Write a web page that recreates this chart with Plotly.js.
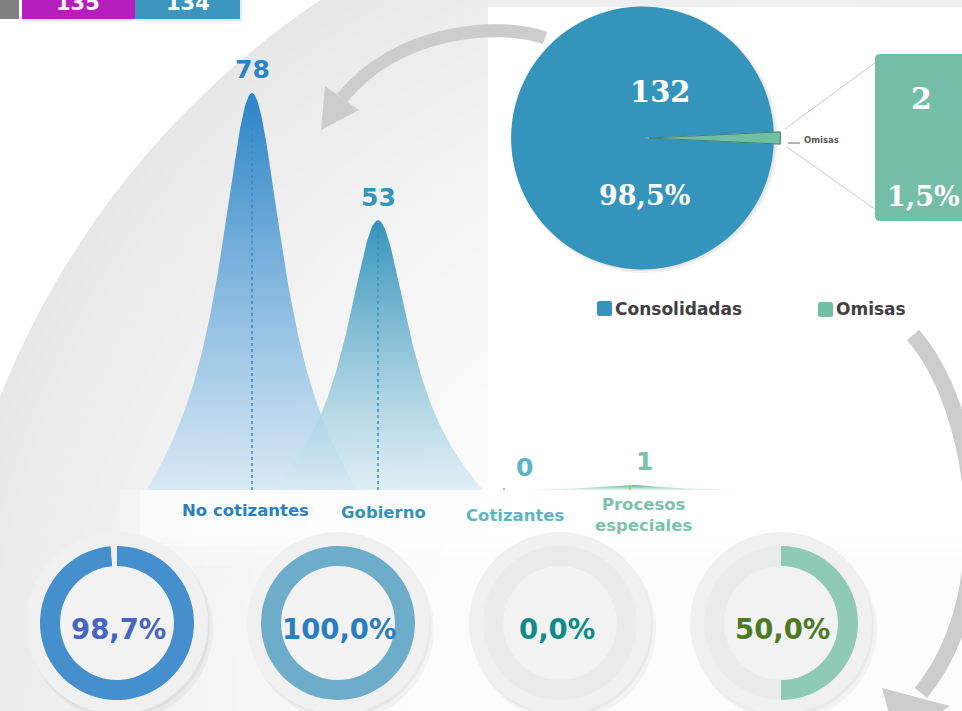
<!DOCTYPE html>
<html><head><meta charset="utf-8">
<script src="https://cdn.plot.ly/plotly-3.0.1.min.js"></script>
<style>html,body{margin:0;padding:0;background:#fff;overflow:hidden}#chart{width:962px;height:711px}</style>
</head><body><div id="chart"></div>
<script>
// ---------- DATA ----------
const topBoxValues = [135, 134];
const categories = ['No cotizantes', 'Gobierno', 'Cotizantes', 'Procesos<br>especiales'];
const counts = [78, 53, 0, 1];
const pieLabels = ['Consolidadas', 'Omisas'];
const pieValues = [132, 2];
const gaugePct = [98.7, 100.0, 0.0, 50.0];

// ---------- STYLE ----------
const W = 962, H = 711;
const FONT = 'DejaVu Sans';
const SERIF = 'DejaVu Serif';
const px = x => x / W;
const py = y => 1 - y / H;
const P = (x, y) => px(x) + ',' + py(y);

const peakTop = ['#2A84C6', '#3494BA', '#5BB5C6', '#4FA98A'];
const peakBottom = ['rgba(214,232,245,0.9)', 'rgba(214,235,242,0.75)', 'rgba(214,238,242,0.8)', 'rgba(210,236,226,0.6)'];
const dotColor = ['#3A86C8', '#3494BA', '#5BB5C6', '#8CC63F'];
const valColor = ['#2A84C6', '#3494BA', '#5BB5C6', '#7BC2A8'];
const catColor = ['#2B7FC3', '#3592B9', '#5BB5C6', '#7BC2A8'];
const valXShift = [0, 0, 20, 14];
const catXShift = [-7, 5, 11, 13];
const catYShift = [-20, -22, -25, -25];

const pieColors = ['#3494BC', '#6FBFA5'];
const gaugeCX = [117, 338, 560, 781], gaugeCY = 623;
const gaugeColor = ['#4590CC', '#6DADC9', '#8FCAB6', '#8ECAB5'];
const gaugeRest = ['#F0F0F0', '#EBEBEB', '#EBEBEB', '#EBEBEB'];
const gaugeText = ['#4664C4', '#2B7DC2', '#0E8C8A', '#4E7A26'];

// peak axis geometry
const X0PX = 252, STEP = 126, BASE = 490, TOPPX = 60, UNIT = 397 / 78;
const fmt = v => v.toFixed(1).replace('.', ',') + '%';

// ---------- SHAPES ----------
const shapes = [];
function circ(cx, cy, r, fill) {
  shapes.push({type: 'circle', xref: 'paper', yref: 'paper', layer: 'below',
    x0: px(cx - r), x1: px(cx + r), y0: py(cy + r), y1: py(cy - r),
    fillcolor: fill, line: {width: 0}});
}
function rect(x0, y0, x1, y1, fill) {
  shapes.push({type: 'rect', xref: 'paper', yref: 'paper', layer: 'below',
    x0: px(x0), x1: px(x1), y0: py(y1), y1: py(y0), fillcolor: fill, line: {width: 0}});
}
function rrect(x0, y0, x1, y1, r, fill) {
  const d = 'M' + P(x0 + r, y0) + ' L' + P(x1 - r, y0) + ' Q' + P(x1, y0) + ' ' + P(x1, y0 + r) +
    ' L' + P(x1, y1 - r) + ' Q' + P(x1, y1) + ' ' + P(x1 - r, y1) + ' L' + P(x0 + r, y1) +
    ' Q' + P(x0, y1) + ' ' + P(x0, y1 - r) + ' L' + P(x0, y0 + r) + ' Q' + P(x0, y0) + ' ' + P(x0 + r, y0) + ' Z';
  shapes.push({type: 'path', xref: 'paper', yref: 'paper', layer: 'below', path: d, fillcolor: fill, line: {width: 0}});
}
function stroke(d, color, w) {
  shapes.push({type: 'path', xref: 'paper', yref: 'paper', layer: 'below', path: d,
    fillcolor: 'rgba(0,0,0,0)', line: {color: color, width: w}});
}
function poly(pts, fill) {
  const d = 'M' + pts.map(p => P(p[0], p[1])).join(' L') + ' Z';
  shapes.push({type: 'path', xref: 'paper', yref: 'paper', layer: 'below', path: d, fillcolor: fill, line: {width: 0}});
}

// background big soft circle (smooth radial shading)
const BG_STEPS = 40;
for (let k = 0; k < BG_STEPS; k++) {
  const t = k / (BG_STEPS - 1);
  const r = 861 - 480 * t;
  const g = Math.round(0xE7 + (0xFC - 0xE7) * Math.pow(t, 0.75));
  circ(800, 715, r, 'rgb(' + g + ',' + g + ',' + g + ')');
}

// white panels with soft lower edge
rect(488, 7, 962, 537, '#FFFFFF');
rect(140, 490, 488, 537, 'rgba(255,255,255,0.7)');
rect(120, 490, 140, 537, 'rgba(255,255,255,0.3)');
[[537, 546, 0.55], [546, 555, 0.35], [555, 566, 0.18]].forEach(b => rect(120, b[0], 962, b[1], 'rgba(255,255,255,' + b[2] + ')'));

// top-left boxes
rect(0, 0, 19, 19, '#808080');
rect(22, 0, 135, 19, '#B51DBD');
rect(135, 0, 240, 19, '#3A96BF');
stroke('M' + P(21, 20.5) + ' L' + P(241, 20.5) + ' L' + P(241, 0), '#D8E6EF', 1.5);

// arrows
stroke('M' + P(545, 38) + ' C' + P(500, 22) + ' ' + P(400, 28) + ' ' + P(342, 98), '#CCCCCC', 13);
poly([[325, 86], [359, 110], [321, 130]], '#CCCCCC');
stroke('M' + P(913, 335) + ' C' + P(975, 405) + ' ' + P(1005, 590) + ' ' + P(921, 693), '#CCCCCC', 16);
poly([[882, 688], [950, 706], [897, 742]], '#CCCCCC');

// pie shadow
circ(645, 140, 133, 'rgba(0,0,0,0.05)');
circ(644, 139, 132, 'rgba(0,0,0,0.05)');

// Omisas breakout box + connectors
stroke('M' + P(785, 129) + ' L' + P(876, 62), '#C9C9C9', 1);
stroke('M' + P(787, 147) + ' L' + P(876, 210), '#C9C9C9', 1);
rrect(875, 54, 985, 221, 5, '#74BDA6');
stroke('M' + P(788, 143) + ' L' + P(800, 143), '#666666', 1);

// legend squares
rrect(597, 301, 612, 316, 2.5, pieColors[0]);
rrect(818, 302, 833, 317, 2.5, pieColors[1]);

// gauge discs
gaugeCX.forEach(cx => {
  circ(cx + 4, gaugeCY + 6, 92, 'rgba(0,0,0,0.035)');
  circ(cx + 2, gaugeCY + 3, 91, 'rgba(0,0,0,0.04)');
  circ(cx, gaugeCY, 91, '#F0F0F0');
  circ(cx, gaugeCY, 60, '#EAEAEA');
  circ(cx, gaugeCY, 57, '#F2F2F2');
});

// ---------- TRACES ----------
const traces = [];
const D = 105 / STEP, A = 38 / STEP, N = 160;
counts.forEach((v, i) => {
  const xs = [], ys = [];
  for (let k = -N; k <= N; k++) {
    const d = D * k / N;
    const f = 1 / (1 + (d / A) ** 2) * (1 - (d / D) ** 4);
    xs.push(i + d); ys.push(v * Math.max(f, 0));
  }
  traces.push({type: 'scatter', mode: 'lines', x: xs, y: ys, fill: 'toself',
    line: {width: 0, color: 'rgba(0,0,0,0)'},
    fillcolor: peakTop[i],
    fillgradient: {type: 'vertical', start: 0, stop: Math.max(v, 0.5),
      colorscale: [[0, peakBottom[i]], [1, peakTop[i]]]},
    hoverinfo: 'skip', showlegend: false, xaxis: 'x', yaxis: 'y'});
});
counts.forEach((v, i) => {
  traces.push({type: 'scatter', mode: 'lines', x: [i, i], y: [0, Math.max(v, 0.35)],
    line: {color: dotColor[i], width: 1.5, dash: 'dot'}, hoverinfo: 'skip', showlegend: false});
});

const total = pieValues.reduce((a, b) => a + b, 0);
traces.push({type: 'pie', labels: pieLabels, values: pieValues, sort: false, direction: 'clockwise',
  rotation: 90 + 180 * pieValues[1] / total, pull: [0, 0.05],
  marker: {colors: pieColors, line: {color: ['#3494BC', '#2E6F5D'], width: [0, 0.8]}},
  textinfo: 'none', hoverinfo: 'skip', showlegend: false,
  domain: {x: [px(504.5), px(780.5)], y: [py(276), py(0)]}});

gaugePct.forEach((p, i) => {
  const cx = gaugeCX[i];
  traces.push({type: 'pie', values: [p, 100 - p], labels: ['a' + i, 'b' + i], sort: false,
    direction: 'clockwise', rotation: 0, hole: 57 / 77,
    marker: {colors: [gaugeColor[i], gaugeRest[i]], line: {width: 0}},
    textinfo: 'none', hoverinfo: 'skip', showlegend: false,
    domain: {x: [px(cx - 77), px(cx + 77)], y: [py(gaugeCY + 77), py(gaugeCY - 77)]}});
});

// ---------- ANNOTATIONS ----------
const annotations = [];
function ann(x, y, text, size, color, o) {
  annotations.push(Object.assign({xref: 'paper', yref: 'paper', x: px(x), y: py(y), text: text,
    showarrow: false, xanchor: 'center', yanchor: 'middle',
    font: {family: FONT, size: size, color: color, weight: 'bold'}}, o || {}));
}
// top boxes
ann(78, 3.5, String(topBoxValues[0]), 21, '#FFFFFF');
ann(188, 3.5, String(topBoxValues[1]), 21, '#FFFFFF');

// peak values and categories
counts.forEach((v, i) => {
  annotations.push({xref: 'x', yref: 'y', x: i, y: v, yshift: 23, xshift: valXShift[i],
    text: String(v), showarrow: false, xanchor: 'center', yanchor: 'middle',
    font: {family: FONT, size: 25, color: valColor[i], weight: 'bold'}});
  annotations.push({xref: 'x', yref: 'y', x: i, y: 0, yshift: catYShift[i], xshift: catXShift[i],
    text: categories[i], showarrow: false, xanchor: 'center', yanchor: 'middle',
    font: {family: FONT, size: 16.5, color: catColor[i], weight: 'bold'}});
});

// pie labels
const piePct = pieValues.map(v => fmt(100 * v / total));
const serif = (s) => ({family: SERIF, size: s, color: '#FFFFFF', weight: 'bold'});
ann(660, 92, String(pieValues[0]), 29, '#FFFFFF', {font: serif(29)});
ann(644, 195, piePct[0], 27, '#FFFFFF', {font: serif(27)});
ann(921, 98, String(pieValues[1]), 30, '#FFFFFF', {font: serif(30)});
ann(923, 196, piePct[1], 27, '#FFFFFF', {font: serif(27)});
ann(802, 140, pieLabels[1], 8.5, '#555555', {xanchor: 'left'});

// legend
ann(613, 309, pieLabels[0], 17, '#404040', {xanchor: 'left'});
ann(834, 309, pieLabels[1], 17, '#404040', {xanchor: 'left'});

// gauges
gaugePct.forEach((p, i) => ann(gaugeCX[i] + (i === 2 ? -3 : 1), gaugeCY + 6, fmt(p), 27.5, gaugeText[i]));

const layout = {
  width: W, height: H, margin: {l: 0, r: 0, t: 0, b: 0},
  paper_bgcolor: '#FFFFFF', plot_bgcolor: 'rgba(0,0,0,0)',
  font: {family: FONT},
  showlegend: false, hovermode: false,
  xaxis: {domain: [px(140), px(740)], range: [(140 - X0PX) / STEP, (740 - X0PX) / STEP],
    showgrid: false, zeroline: false, showticklabels: false, showline: false, ticks: '', fixedrange: true},
  yaxis: {domain: [py(BASE), py(TOPPX)], range: [0, (BASE - TOPPX) / UNIT],
    showgrid: false, zeroline: false, showticklabels: false, showline: false, ticks: '', fixedrange: true},
  shapes: shapes, annotations: annotations
};

Plotly.newPlot('chart', traces, layout, {staticPlot: true, displayModeBar: false});
</script></body></html>
